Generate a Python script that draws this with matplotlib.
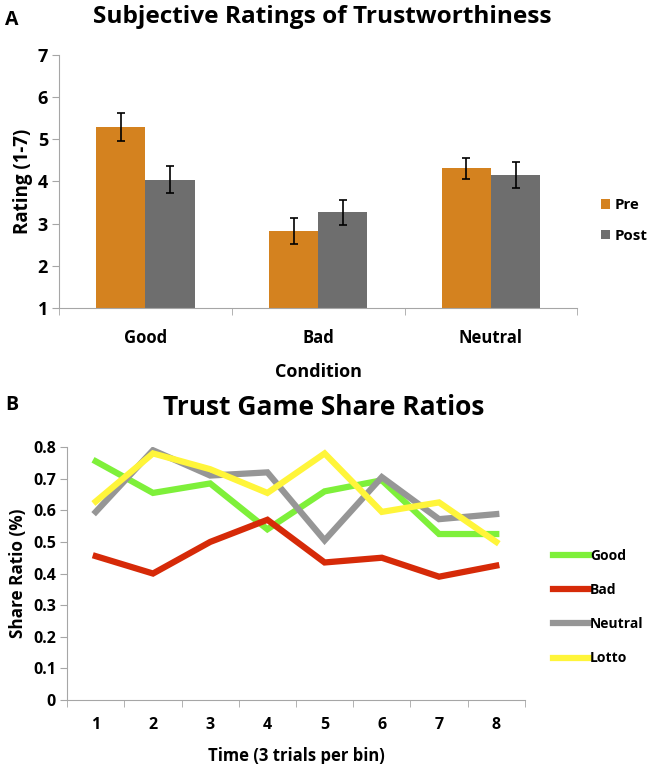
import matplotlib
matplotlib.use("Agg")
import matplotlib.pyplot as plt
import numpy as np

plt.rcParams['font.family'] = ['Open Sans', 'DejaVu Sans']

# Panel A data
conditions = ["Good", "Bad", "Neutral"]
pre_vals = [5.30, 2.83, 4.31]
post_vals = [4.04, 3.27, 4.15]
pre_err = [0.33, 0.31, 0.25]
post_err = [0.32, 0.30, 0.30]

# Panel B data
bins = [1, 2, 3, 4, 5, 6, 7, 8]
good = [0.755, 0.655, 0.685, 0.54, 0.66, 0.695, 0.525, 0.525]
bad = [0.455, 0.40, 0.50, 0.57, 0.435, 0.45, 0.39, 0.425]
neutral = [0.595, 0.79, 0.71, 0.72, 0.505, 0.705, 0.572, 0.588]
lotto = [0.628, 0.78, 0.73, 0.655, 0.78, 0.595, 0.625, 0.50]

orange = "#D4821F"
dgray = "#6E6E6E"
axcol = "#A6A6A6"
BOLD = 'bold'

fig = plt.figure(figsize=(6.52, 7.64), dpi=100)

# ---------- Panel A ----------
axA = fig.add_axes([0.0905, 0.597, 0.795, 0.331])
x = np.arange(len(conditions))
w = 0.285
axA.bar(x - w/2, np.array(pre_vals) - 1, w, bottom=1, color=orange, label="Pre", zorder=2)
axA.bar(x + w/2, np.array(post_vals) - 1, w, bottom=1, color=dgray, label="Post", zorder=2)
axA.errorbar(x - w/2, pre_vals, yerr=pre_err, fmt='none', ecolor='black', elinewidth=1.2, capsize=3.2, capthick=1.2, zorder=3)
axA.errorbar(x + w/2, post_vals, yerr=post_err, fmt='none', ecolor='black', elinewidth=1.2, capsize=3.2, capthick=1.2, zorder=3)
axA.set_xlim(-0.5, 2.5)
axA.set_ylim(1, 7)
axA.set_yticks(range(1, 8))
axA.set_xticks(x)
axA.set_xticklabels(conditions, fontsize=12, fontweight=BOLD)
axA.set_xticks([-0.5, 0.5, 1.5, 2.5], minor=True)
axA.tick_params(axis='x', which='major', length=0, pad=15)
axA.tick_params(axis='x', which='minor', length=5, color=axcol, direction='out')
axA.tick_params(axis='y', length=5, color=axcol, labelsize=13, pad=3)
for lab in axA.get_yticklabels():
    lab.set_fontweight(BOLD)
for s in ['top', 'right']:
    axA.spines[s].set_visible(False)
for s in ['left', 'bottom']:
    axA.spines[s].set_color(axcol)
axA.set_ylabel("Rating (1-7)", fontsize=13.5, fontweight=BOLD, labelpad=3)
axA.set_xlabel("Condition", fontsize=13, fontweight=BOLD, labelpad=12)
legA = axA.legend(loc='center left', bbox_to_anchor=(1.035, 0.346), frameon=False,
                  fontsize=10.8, handlelength=0.6, handleheight=0.6, handletextpad=0.3,
                  labelspacing=1.1, borderaxespad=0)
for t in legA.get_texts():
    t.set_fontweight(BOLD)
fig.text(0.495, 0.978, "Subjective Ratings of Trustworthiness", ha='center', va='center',
         fontsize=17.6, fontweight=BOLD)
fig.text(0.008, 0.974, "A", ha='left', va='center', fontsize=14, fontweight=BOLD)

# ---------- Panel B ----------
axB = fig.add_axes([0.103, 0.0838, 0.702, 0.331])
lw = 4.5
axB.plot(bins, good, color="#7EF03A", lw=lw, label="Good", solid_joinstyle='miter')
axB.plot(bins, bad, color="#D62A08", lw=lw, label="Bad", solid_joinstyle='miter')
axB.plot(bins, neutral, color="#969696", lw=lw, label="Neutral", solid_joinstyle='miter')
axB.plot(bins, lotto, color="#FFF53A", lw=lw, label="Lotto", solid_joinstyle='miter')
axB.set_xlim(0.5, 8.5)
axB.set_ylim(0, 0.8)
axB.set_yticks(np.arange(0, 0.81, 0.1))
axB.set_yticklabels(["0"] + ["%.1f" % v for v in np.arange(0.1, 0.81, 0.1)])
axB.set_xticks(bins)
axB.set_xticks(np.arange(0.5, 8.6, 1), minor=True)
axB.tick_params(axis='x', which='major', length=0, pad=12, labelsize=11.5)
axB.tick_params(axis='x', which='minor', length=5, color=axcol, direction='out')
axB.tick_params(axis='y', length=5, color=axcol, labelsize=11.5, pad=3)
for lab in axB.get_yticklabels() + axB.get_xticklabels():
    lab.set_fontweight(BOLD)
for s in ['top', 'right']:
    axB.spines[s].set_visible(False)
for s in ['left', 'bottom']:
    axB.spines[s].set_color(axcol)
axB.set_ylabel("Share Ratio (%)", fontsize=12.3, fontweight=BOLD, labelpad=4)
axB.set_xlabel("Time (3 trials per bin)", fontsize=12, fontweight=BOLD, labelpad=10)
legB = axB.legend(loc='center left', bbox_to_anchor=(1.05, 0.367), frameon=False,
                  fontsize=10, handlelength=2.6, handletextpad=0.05, labelspacing=1.45,
                  borderaxespad=0)
for t in legB.get_texts():
    t.set_fontweight(BOLD)
fig.text(0.496, 0.467, "Trust Game Share Ratios", ha='center', va='center',
         fontsize=19, fontweight=BOLD)
fig.text(0.008, 0.470, "B", ha='left', va='center', fontsize=14, fontweight=BOLD)

fig.savefig("out.png", dpi=100)
